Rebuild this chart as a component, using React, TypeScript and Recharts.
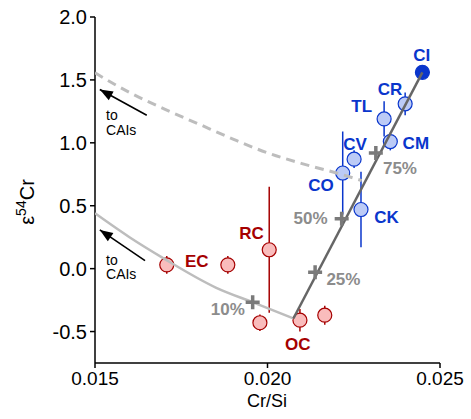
import {
  ScatterChart,
  Scatter,
  XAxis,
  YAxis,
  ErrorBar,
} from "recharts";

// carbonaceous chondrites (blue)
const ccNames = ["CI", "CR", "TL", "CM", "CV", "CO", "CK"];
const ccCrSi = [0.02449, 0.02399, 0.02338, 0.02356, 0.02251, 0.02218, 0.02271];
const ccEps = [1.56, 1.31, 1.19, 1.01, 0.87, 0.76, 0.47];
const ccErr = [0, 0.09, 0.14, 0.07, 0.07, 0.33, 0.3];

// non-carbonaceous (red)
const ncNames = ["EC", "EC", "RC", "OC", "OC", "OC"];
const ncCrSi = [0.01708, 0.01885, 0.02005, 0.01978, 0.02094, 0.02166];
const ncEps = [0.03, 0.03, 0.15, -0.43, -0.41, -0.37];
const ncErr = [0.07, 0.07, 0.5, 0.065, 0.09, 0.075];

// mixing curves
const ncCaiX = [0.015, 0.016, 0.017, 0.0185, 0.0196, 0.02075];
const ncCaiY = [0.44, 0.25, 0.08, -0.15, -0.27, -0.396];
const ccCaiX = [0.015, 0.016, 0.017, 0.018, 0.019, 0.02, 0.021, 0.022, 0.02273];
const ccCaiY = [1.556, 1.4, 1.27, 1.15, 1.03, 0.92, 0.835, 0.76, 0.7];
const mixX = [0.02075, 0.02449];
const mixY = [-0.396, 1.56];

// CI fraction markers along the mixing line
const pctNames = ["10%", "25%", "50%", "75%"];
const pctX = [0.01957, 0.02138, 0.02215, 0.02314];
const pctY = [-0.268, -0.029, 0.396, 0.919];

// text annotations (data coordinates)
const ccLabelX = [0.02447, 0.02355, 0.02273, 0.0243, 0.02254, 0.02155, 0.02345];
const ccLabelY = [1.697, 1.424, 1.291, 0.998, 0.988, 0.661, 0.409];
const ncLabels = ["EC", "RC", "OC"];
const ncLabelX = [0.01795, 0.01954, 0.02088];
const ncLabelY = [0.058, 0.281, -0.606];
const pctLabelX = [0.01885, 0.0222, 0.02125, 0.02384];
const pctLabelY = [-0.327, -0.088, 0.396, 0.794];

const arrowX = [
  [0.0165, 0.01514],
  [0.01645, 0.01514],
];
const arrowY = [
  [1.219, 1.424],
  [0.064, 0.308],
];
const arrowTextX = [0.01532, 0.01532];
const arrowTextY = [
  [1.219, 1.104],
  [0.072, -0.044],
];

const xTicks = [0.015, 0.02, 0.025];
const yTicks = [-0.5, 0, 0.5, 1, 1.5, 2];

const BLUE = "#0a36cc";
const BLUE_FILL = "#bccbf6";
const RED = "#a50000";
const RED_FILL = "#f9bcbc";
const GREY_TXT = "#8c8c8c";
const FONT = "'Liberation Sans', Arial, sans-serif";

const ccData = ccNames.map((name, i) => ({ name, x: ccCrSi[i], y: ccEps[i], err: ccErr[i] }));
const ncData = ncNames.map((name, i) => ({ name, x: ncCrSi[i], y: ncEps[i], err: ncErr[i] }));
const ncCai = ncCaiX.map((x, i) => ({ x, y: ncCaiY[i] }));
const ccCai = ccCaiX.map((x, i) => ({ x, y: ccCaiY[i] }));
const mix = mixX.map((x, i) => ({ x, y: mixY[i] }));
const pct = pctNames.map((name, i) => ({ name, x: pctX[i], y: pctY[i] }));
const ccLabels = ccNames.map((text, i) => ({ text, x: ccLabelX[i], y: ccLabelY[i] }));
const ncLabelData = ncLabels.map((text, i) => ({ text, x: ncLabelX[i], y: ncLabelY[i] }));
const pctLabels = pctNames.map((text, i) => ({ text, x: pctLabelX[i], y: pctLabelY[i] }));
const arrows = arrowX.map((xs, a) =>
  xs.map((x, i) => ({ x, y: arrowY[a][i], head: i === 1 }))
);
const arrowTexts = arrowTextX.flatMap((x, a) => [
  { text: "to", x, y: arrowTextY[a][0] },
  { text: "CAIs", x, y: arrowTextY[a][1] },
]);

const none = () => <g />;

const dot = (stroke: string, fill: string) => (p: any) => (
  <circle
    cx={p.cx}
    cy={p.cy}
    r={7}
    fill={p.payload.name === "CI" ? stroke : fill}
    stroke={stroke}
    strokeWidth={1.2}
  />
);

const plus = (p: any) => (
  <path
    d={`M${p.cx - 7},${p.cy}H${p.cx + 7}M${p.cx},${p.cy - 7}V${p.cy + 7}`}
    stroke="#7a7a7a"
    strokeWidth={3.5}
  />
);

const label =
  (color: string, size: number, weight: string, anchor: "middle" | "start") =>
  (p: any) => (
    <text
      x={p.cx}
      y={p.cy}
      textAnchor={anchor}
      dominantBaseline="central"
      fontSize={size}
      fontWeight={weight}
      fill={color}
      fontFamily={FONT}
    >
      {p.payload.text}
    </text>
  );

const arrowHead = (angle: number) => (p: any) =>
  p.payload.head ? (
    <polygon
      points="0,0 -13,-5 -13,5"
      fill="#000"
      transform={`translate(${p.cx},${p.cy}) rotate(${angle})`}
    />
  ) : (
    <g />
  );

export default function App() {
  return (
    <div style={{ position: "absolute", left: 0, top: 0, fontFamily: FONT }}>
      <ScatterChart
        width={471}
        height={419}
        margin={{ top: 17, right: 31, left: 35, bottom: 26 }}
      >
        <XAxis
          type="number"
          dataKey="x"
          domain={[0.015, 0.025]}
          ticks={xTicks}
          allowDataOverflow
          tickFormatter={(v: number) => v.toFixed(3)}
          height={30}
          tickSize={5}
          tickMargin={4}
          stroke="#000"
          axisLine={{ stroke: "#000", strokeWidth: 1.5 }}
          tickLine={{ stroke: "#000", strokeWidth: 1.5 }}
          tick={{ fill: "#000", fontSize: 19, fontFamily: FONT }}
          label={{
            content: () => (
              <text x={267} y={401} textAnchor="middle" dominantBaseline="central" fontSize={18} fontFamily={FONT} fill="#000">
                Cr/Si
              </text>
            ),
          }}
        />
        <XAxis
          xAxisId="top"
          orientation="top"
          type="number"
          dataKey="x"
          domain={[0.015, 0.025]}
          ticks={xTicks}
          allowDataOverflow
          height={0}
          mirror
          tick={false}
          tickSize={5}
          axisLine={{ stroke: "#000", strokeWidth: 1.5 }}
          tickLine={{ stroke: "#000", strokeWidth: 1.5 }}
        />
        <YAxis
          type="number"
          dataKey="y"
          domain={[-0.75, 2]}
          ticks={yTicks}
          allowDataOverflow
          width={60}
          tickFormatter={(v: number) => v.toFixed(1)}
          tickSize={5}
          tickMargin={3}
          axisLine={{ stroke: "#000", strokeWidth: 1.5 }}
          tickLine={{ stroke: "#000", strokeWidth: 1.5 }}
          tick={{ fill: "#000", fontSize: 20, fontFamily: FONT }}
          label={{
            content: () => (
              <text transform="translate(27,202) rotate(-90)" textAnchor="middle" fontSize={20} fontFamily={FONT} fill="#000" dy={7}>
                ε<tspan dy={-8} fontSize={14}>54</tspan>
                <tspan dy={8}>Cr</tspan>
              </text>
            ),
          }}
        />
        <YAxis
          yAxisId="right"
          orientation="right"
          type="number"
          dataKey="y"
          domain={[-0.75, 2]}
          ticks={yTicks}
          allowDataOverflow
          width={0}
          mirror
          tick={false}
          tickSize={5}
          axisLine={{ stroke: "#000", strokeWidth: 1.5 }}
          tickLine={{ stroke: "#000", strokeWidth: 1.5 }}
        />

        <Scatter data={ncData} shape={dot(RED, RED_FILL)} isAnimationActive={false}>
          <ErrorBar dataKey="err" direction="y" width={0} stroke={RED} strokeWidth={1.5} />
        </Scatter>
        <Scatter data={ccData} shape={dot(BLUE, BLUE_FILL)} isAnimationActive={false}>
          <ErrorBar dataKey="err" direction="y" width={0} stroke={BLUE} strokeWidth={1.5} />
        </Scatter>

        <Scatter
          data={ncCai}
          line={{ stroke: "#bdbdbd", strokeWidth: 2.5 }}
          lineJointType="monotoneX"
          shape={none}
          isAnimationActive={false}
        />
        <Scatter
          data={ccCai}
          line={{ stroke: "#bdbdbd", strokeWidth: 3, strokeDasharray: "9 6" }}
          lineJointType="monotoneX"
          shape={none}
          isAnimationActive={false}
        />
        <Scatter
          data={mix}
          line={{ stroke: "#666", strokeWidth: 2.5 }}
          shape={none}
          isAnimationActive={false}
        />
        <Scatter data={pct} shape={plus} isAnimationActive={false} />

        {arrows.map((a, i) => (
          <Scatter
            key={i}
            data={a}
            line={{ stroke: "#000", strokeWidth: 1.6 }}
            shape={arrowHead(i === 0 ? 209 : 214)}
            isAnimationActive={false}
          />
        ))}

        <Scatter data={ccLabels} shape={label(BLUE, 17, "bold", "middle")} isAnimationActive={false} />
        <Scatter data={ncLabelData} shape={label(RED, 17, "bold", "middle")} isAnimationActive={false} />
        <Scatter data={pctLabels} shape={label(GREY_TXT, 17, "bold", "middle")} isAnimationActive={false} />
        <Scatter data={arrowTexts} shape={label("#000", 14, "normal", "start")} isAnimationActive={false} />
      </ScatterChart>
    </div>
  );
}
